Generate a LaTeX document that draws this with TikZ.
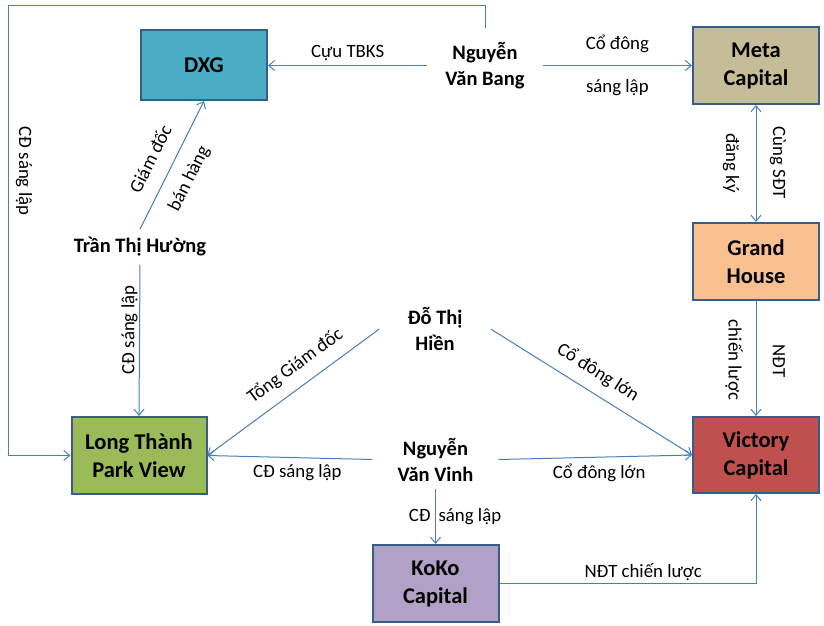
\documentclass[tikz,border=0pt]{standalone}
\usepackage{fontspec}
\setmainfont{Carlito}
\usetikzlibrary{arrows.meta}
\definecolor{edgeblue}{HTML}{385D8A}
\definecolor{linkblue}{HTML}{4A7EBB}
\definecolor{fillteal}{HTML}{4BACC6}
\definecolor{filltan}{HTML}{C4BD97}
\definecolor{fillpeach}{HTML}{FAC090}
\definecolor{fillgreen}{HTML}{9BBB59}
\definecolor{fillred}{HTML}{C0504D}
\definecolor{fillpurple}{HTML}{B2A1C7}
\tikzset{
    box_base/.style={
        rectangle, draw=edgeblue, line width=2pt,
        minimum width=126pt, minimum height=77pt,
        align=center, font=\bfseries\fontsize{22.5}{28}\selectfont
    },
    box_teal/.style={box_base, fill=fillteal},
    box_tan/.style={box_base, fill=filltan},
    box_peach/.style={box_base, fill=fillpeach},
    box_green/.style={box_base, fill=fillgreen},
    box_red/.style={box_base, fill=fillred},
    box_purple/.style={box_base, fill=fillpurple},
    person/.style={
        align=center, inner xsep=18pt, inner ysep=8pt,
        font=\bfseries\fontsize{20.5}{26}\selectfont
    },
    rel_arrow/.style={
        -{Straight Barb[length=6pt,width=10pt]}, draw=linkblue, line width=1pt
    },
    rel_both/.style={
        {Straight Barb[length=6pt,width=10pt]}-{Straight Barb[length=6pt,width=10pt]},
        draw=linkblue, line width=1pt
    },
    lbl/.style={
        font=\fontsize{18.8}{20}\selectfont, text=black, inner sep=4pt
    }
}
\begin{document}
\begin{tikzpicture}[x=1pt, y=1pt]
    \useasboundingbox (0,0) rectangle (824,625);

    % companies
    \node[box_teal, minimum height=70pt] (dxg) at (204,560) {DXG};
    \node[box_tan] (meta) at (756,559.5) {Meta\\Capital};
    \node[box_peach] (grand) at (756,363.5) {Grand\\House};
    \node[box_green, minimum width=135pt] (ltpv) at (139,169.5) {Long Thành\\Park View};
    \node[box_red, minimum height=76pt] (victory) at (756,170) {Victory\\Capital};
    \node[box_purple] (koko) at (435.5,41.5) {KoKo\\Capital};

    % people
    \node[person] (bang) at (485,559.5) {Nguyễn\\Văn Bang};
    \node[person] (huong) at (140,378) {Trần Thị Hường};
    \node[person, inner xsep=28pt] (hien) at (435,296) {Đỗ Thị\\Hiền};
    \node[person, inner xsep=25pt] (vinh) at (435.5,165.5) {Nguyễn\\Văn Vinh};

    % Nguyen Van Bang
    \draw[rel_arrow] (bang.west) -- node[lbl, above] (l_tbks) {Cựu TBKS} (dxg.east |- bang.west);
    \draw[rel_arrow] (bang.east) -- node[lbl, above, inner ysep=12pt] (l_cdong) {Cổ đông}
        node[lbl, below, inner ysep=13pt] (l_sanglap) {sáng lập} (meta.west |- bang.east);
    \draw[rel_arrow] ([yshift=6pt]bang.north) |- (8,619) |- (ltpv.west);
    \node[lbl, rotate=-90] (l_loop) at (24,454) {CĐ sáng lập};

    % Meta -- Grand -- Victory
    \draw[rel_both] (meta.south) -- (grand.north);
    \node[lbl, rotate=-90] (l_dangky) at (731,462) {đăng ký};
    \node[lbl, rotate=-90] (l_sdt) at (778,462) {Cùng SĐT};
    \draw[rel_arrow] (grand.south) -- (victory.north);
    \node[lbl, rotate=-90] (l_chienluoc) at (734,265) {chiến lược};
    \node[lbl, rotate=-90] (l_ndt) at (779,264) {NĐT};

    % Tran Thi Huong
    \draw[rel_arrow] (huong.north) -- node[lbl, sloped, above, pos=0.47, inner sep=15pt] (l_giamdoc) {Giám đốc}
        node[lbl, sloped, below, pos=0.47, inner sep=13pt] (l_banhang) {bán hàng} (dxg.south);
    \draw[rel_arrow] (huong.south) -- (ltpv.north);
    \node[lbl, rotate=90] (l_huong) at (129.5,295) {CĐ sáng lập};

    % Do Thi Hien
    \draw[rel_arrow] (hien.west) -- node[lbl, sloped, above, pos=0.42, inner sep=11pt] (l_tgd) {Tổng Giám đốc} (ltpv.east);
    \draw[rel_arrow] (hien.east) -- node[lbl, sloped, above, pos=0.48, inner sep=11pt] (l_cdl_hien) {Cổ đông lớn} (victory.west);

    % Nguyen Van Vinh
    \draw[rel_arrow] (vinh.west) -- node[lbl, below, pos=0.455, inner sep=6pt] (l_cds_vinh) {CĐ sáng lập} (ltpv.east);
    \draw[rel_arrow] (vinh.east) -- node[lbl, below, pos=0.52, inner sep=6pt] (l_cdl_vinh) {Cổ đông lớn} (victory.west);
    \draw[rel_arrow] (vinh.south) -- node[lbl, midway, xshift=19.5pt] (l_koko) {CĐ\hspace{8pt}sáng lập} (koko.north);

    % KoKo -- Victory
    \draw[rel_arrow] (koko.east) -| node[lbl, above, pos=0.28, inner sep=2pt] (l_ndtcl) {NĐT chiến lược} (victory.south);
\end{tikzpicture}
\end{document}
